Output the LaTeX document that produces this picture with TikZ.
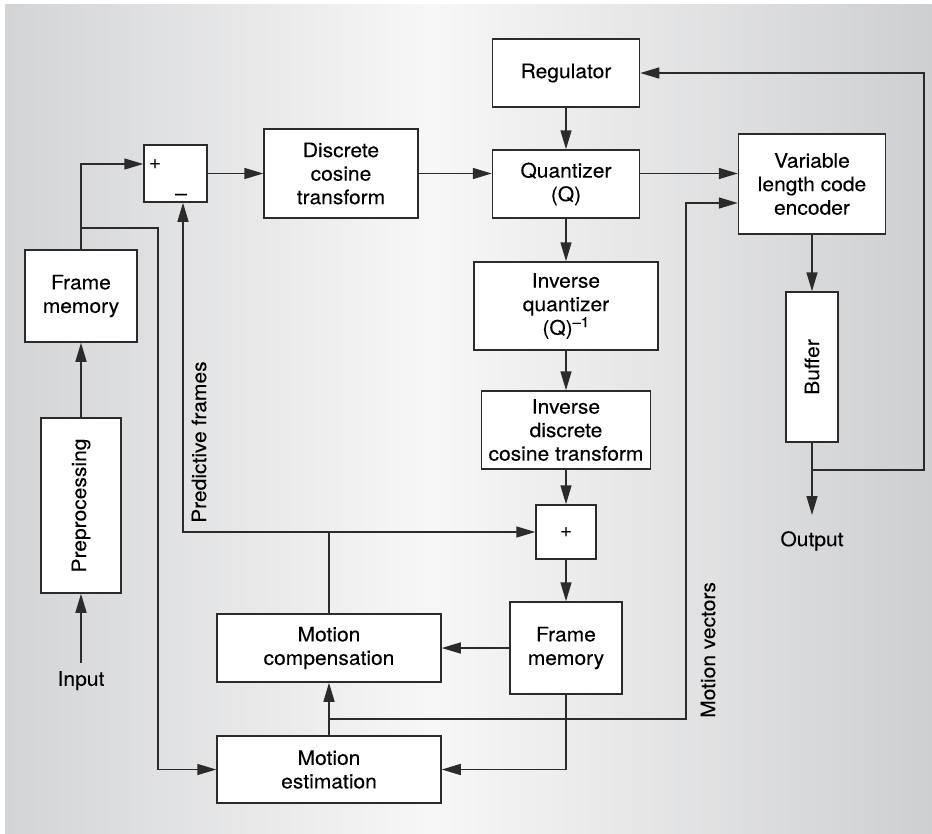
\documentclass[tikz,border=0pt]{standalone}
\usepackage{fontspec}
\setmainfont{TeX Gyre Heros}[FakeStretch=1.05,FakeBold=0.15]
\usetikzlibrary{arrows.meta,calc,positioning}
\usepackage{xcolor}
\definecolor{wire}{HTML}{2B2B2B}
\definecolor{bgleft}{RGB}{211,212,214}
\definecolor{bgmid}{RGB}{247,247,247}
\definecolor{bgright}{RGB}{206,207,209}
\pgfdeclarehorizontalshading{panel}{100bp}{color(0bp)=(bgleft); color(25bp)=(bgleft); color(48bp)=(bgmid); color(75bp)=(bgright); color(100bp)=(bgright)}

\begin{document}
\begin{tikzpicture}[x=1pt,y=-1pt,font=\fontsize{20}{23.5}\selectfont,
  block/.style={draw=wire,fill=white,line width=1.5pt,inner sep=1pt,align=center},
  flow/.style={draw=wire,line width=1.5pt},
  arr/.style={flow,-{Triangle[length=19pt,width=11pt]}}]
  \useasboundingbox (0,0) rectangle (932,833);
  \fill[shading=panel] (5,4) rectangle (932,833);
  % Input side
  \node[inner sep=0pt,anchor=north] (input) at (81,671) {Input};
  \node[block,minimum width=80pt,minimum height=175pt] (pre) at (81,505.5) {};
  \node[rotate=90] (pretext) at (pre) {Preprocessing};
  \node[block,minimum width=112pt,minimum height=92pt] (fm1) at (81,296) {Frame\\memory};
  % Subtractor
  \node[block,minimum width=63pt,minimum height=57pt] (sum) at (175.5,173.5) {};
  \node (sumplus) at (155,164) {+};
  \node (summinus) at (181,197) {--};
  % Coder row
  \node[block,minimum width=154pt,minimum height=89pt] (dct) at (341,173.5) {Discrete\\cosine\\transform};
  \node[block,minimum width=147pt,minimum height=68pt] (reg) at (566,73) {Regulator};
  \node[block,minimum width=147pt,minimum height=68pt] (quant) at (566,184) {Quantizer\\(Q)};
  \node[block,minimum width=147pt,minimum height=100pt] (vlc) at (812,184) {Variable\\length code\\encoder};
  \node[block,minimum width=52pt,minimum height=150pt] (buf) at (812,367) {};
  \node[rotate=90] (buftext) at (buf) {Buffer};
  \node[inner sep=0pt,anchor=north] (output) at (812,531) {Output};
  % Local decoder
  \node[block,minimum width=184pt,minimum height=88pt] (iq) at (566,306) {Inverse\\quantizer\\(Q)\textsuperscript{--1}};
  \node[block,minimum width=169pt,minimum height=78pt] (idct) at (566,430) {Inverse\\discrete\\cosine transform};
  \node[block,minimum width=60pt,minimum height=54pt] (plus) at (566,532) {+};
  \node[block,minimum width=112pt,minimum height=92pt] (fm2) at (566,648) {Frame\\memory};
  \node[block,minimum width=224pt,minimum height=68pt] (mc) at (329,648) {Motion\\compensation};
  \node[block,minimum width=224pt,minimum height=67pt] (me) at (329,769.5) {Motion\\estimation};
  % Side labels
  \node[rotate=90,anchor=west,inner sep=0pt] (predlabel) at (199,523) {Predictive frames};
  \node[rotate=90,anchor=west,inner sep=0pt] (mvlabel) at (708,718) {Motion vectors};

  % Connections
  \draw[arr] ([yshift=8pt]input.north) -- (pre.south);
  \draw[arr] (pre.north) -- (fm1.south);
  \draw[arr] (fm1.north) |- ([yshift=9.5pt]sum.west);
  \coordinate (fmtap) at (81,228);
  \draw[arr] (fmtap) -- (158,228) |- (me.west);
  \draw[arr] (sum.east) -- (dct.west);
  \draw[arr] (dct.east) -- (dct.east -| quant.west);
  \draw[arr] (reg.south) -- (quant.north);
  \draw[arr] (dct.east -| quant.east) -- (dct.east -| vlc.west);
  \draw[arr] (vlc.south) -- (buf.north);
  \draw[arr,shorten >=16pt] (buf.south) -- (output.north);
  \coordinate (fbtap) at (812,470);
  \draw[arr] (fbtap) -- (924,470) |- (reg.east);
  \draw[arr] (quant.south) -- (iq.north);
  \draw[arr] (iq.south) -- (idct.north);
  \draw[arr] (idct.south) -- (plus.north);
  \draw[arr] (plus.south) -- (fm2.north);
  \draw[arr] (fm2.west) -- (mc.east);
  \draw[arr] (fm2.south) |- (me.east);
  \draw[arr] (me.north) -- (mc.south);
  % Predictive frames
  \coordinate (predtap) at (mc.north |- plus.west);
  \draw[flow] (mc.north) -- (predtap);
  \draw[arr] (predtap) -- (plus.west);
  \draw[arr] (predtap) -| ([xshift=7.5pt]sum.south);
  % Motion vectors
  \coordinate (mvtap) at (329,719);
  \draw[arr] (mvtap) -- (686,719) |- ([yshift=-19pt]vlc.west);
\end{tikzpicture}
\end{document}
